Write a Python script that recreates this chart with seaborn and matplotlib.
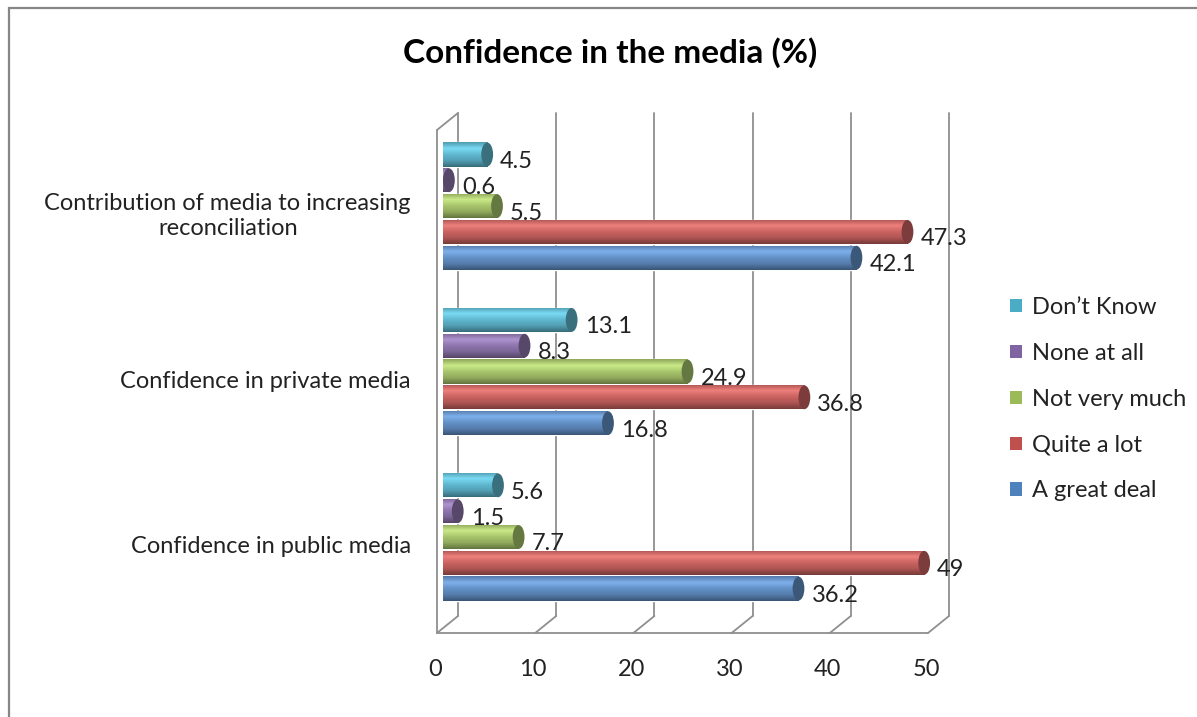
import numpy as np
import pandas as pd
import matplotlib
matplotlib.use("Agg")
import matplotlib.pyplot as plt
import matplotlib.transforms as mtransforms
from matplotlib.colors import LinearSegmentedColormap, to_rgb
from matplotlib.patches import Ellipse, Patch, Rectangle
import seaborn as sns

# ---- data -------------------------------------------------------------
categories = ["Contribution of media to increasing\nreconciliation",
              "Confidence in private media",
              "Confidence in public media"]
responses = ["Don\u2019t Know", "None at all", "Not very much", "Quite a lot", "A great deal"]
dont_know = [4.5, 13.1, 5.6]
none_at_all = [0.6, 8.3, 1.5]
not_very_much = [5.5, 24.9, 7.7]
quite_a_lot = [47.3, 36.8, 49.0]
great_deal = [42.1, 16.8, 36.2]
x_ticks = [0, 10, 20, 30, 40, 50]
palette = ["#4BACC6", "#8064A2", "#9BBB59", "#C0504D", "#4F81BD"]
title = "Confidence in the media (%)"

series = [dont_know, none_at_all, not_very_much, quite_a_lot, great_deal]
df = pd.DataFrame(
    [(c, r, v) for r, vals in zip(responses, series) for c, v in zip(categories, vals)],
    columns=["category", "response", "value"],
)

# ---- style ------------------------------------------------------------
sns.set_style("white")
plt.rcParams["font.family"] = ["Lato", "DejaVu Sans"]
TXT = "#222222"
FRAME = "#8f8f8f"
FS = 17

W, H = 1197, 717
fig = plt.figure(figsize=(W / 100, H / 100), dpi=100)
ax = fig.add_axes([443 / W, 1 - 625 / H, 491 / W, 503 / H])

sns.barplot(data=df, x="value", y="category", hue="response",
            order=categories, hue_order=responses, palette=palette,
            orient="h", width=0.78, gap=0.06, errorbar=None,
            saturation=1, legend=False, ax=ax, zorder=2)

# cylinder-like shading on each bar, with a darker elliptical end cap
grad = np.linspace(0, 1, 64).reshape(-1, 1)
for color, container in zip(palette, ax.containers):
    base = np.array(to_rgb(color))
    base = base + (1 - base) * 0.1
    light = np.minimum(base * 1.1 + 0.08, 1)
    cmap = LinearSegmentedColormap.from_list(
        "cyl", [base * 0.86, light, base * 1.02, base * 0.88, base * 0.6])
    for p in container:
        x0, y0, w, h = p.get_x(), p.get_y(), p.get_width(), p.get_height()
        im = ax.imshow(grad, cmap=cmap, extent=(x0, x0 + w, y0 + h, y0),
                       aspect="auto", origin="upper", zorder=2.1,
                       interpolation="bilinear")
        im.set_clip_path(p)
        ax.add_patch(Ellipse((x0 + w, y0 + h / 2), width=1.2, height=h * 0.98,
                             facecolor=base * 0.62, edgecolor="none", zorder=2.2))

ax.set_xlim(0, 50)
ax.set_ylim(2.532, -0.508)
ax.axis("off")


def shifted(base, dx, dy):
    return base + mtransforms.ScaledTranslation(dx / fig.dpi, dy / fig.dpi,
                                                fig.dpi_scale_trans)


xblend = mtransforms.blended_transform_factory(ax.transData, ax.transAxes)
yblend = mtransforms.blended_transform_factory(ax.transAxes, ax.transData)
back = shifted(xblend, 15, 9)
front = shifted(xblend, -6, -8)

# back wall gridlines and left wall
for t in x_ticks:
    ax.plot([t, t], [0, 1], transform=back, color=FRAME, lw=1.3,
            zorder=0.5, clip_on=False)
ax.plot([0, 0], [0, 1], transform=front, color=FRAME, lw=1.3,
        zorder=0.5, clip_on=False)
ax.plot([0, 50], [0, 0], transform=front, color=FRAME, lw=1.3,
        zorder=0.5, clip_on=False)

# depth edges of the floor and the wall top
fig.canvas.draw()
ident = mtransforms.IdentityTransform()
for t in x_ticks:
    p1 = front.transform((t, 0))
    p2 = back.transform((t, 0))
    ax.plot([p1[0], p2[0]], [p1[1], p2[1]], transform=ident, color=FRAME,
            lw=1.3, zorder=0.5, clip_on=False)
p1 = front.transform((0, 1))
p2 = back.transform((0, 1))
ax.plot([p1[0], p2[0]], [p1[1], p2[1]], transform=ident, color=FRAME,
        lw=1.3, zorder=0.5, clip_on=False)

# x tick labels
for t in x_ticks:
    ax.text(t, 0, str(t), transform=shifted(xblend, -8, -44), ha="center",
            va="center", fontsize=FS, color=TXT)

# category labels
for i, c in enumerate(categories):
    ax.text(0, i, c, transform=shifted(yblend, -32, -10), ha="right",
            va="center", multialignment="center", fontsize=FS, color=TXT,
            linespacing=1.22)

# value labels
for container, vals in zip(ax.containers, series):
    for p, v in zip(container, vals):
        yc = p.get_y() + p.get_height() / 2
        ax.annotate(f"{v:g}", (v, yc), xytext=(13, -7),
                    textcoords="offset pixels", ha="left", va="center",
                    fontsize=FS, color=TXT, zorder=3)

# legend
handles = [Patch(facecolor=c, edgecolor="none") for c in palette]
fig.legend(handles, responses, loc="upper left",
           bbox_to_anchor=(989 / W, 1 - 276 / H), frameon=False, fontsize=FS,
           handlelength=0.48, handleheight=0.48, handletextpad=0.45,
           labelspacing=1.05, labelcolor=TXT)

# title
fig.text(610 / W, 1 - 53 / H, title, ha="center", va="center", fontsize=24,
         fontweight="bold", color="black")

# outer chart border
fig.add_artist(Rectangle((9 / W, -0.05), 1.2, 1 - 8 / H + 0.05,
                         transform=fig.transFigure, fill=False,
                         edgecolor="#868686", lw=1.6))

fig.savefig("out.png", dpi=100)
